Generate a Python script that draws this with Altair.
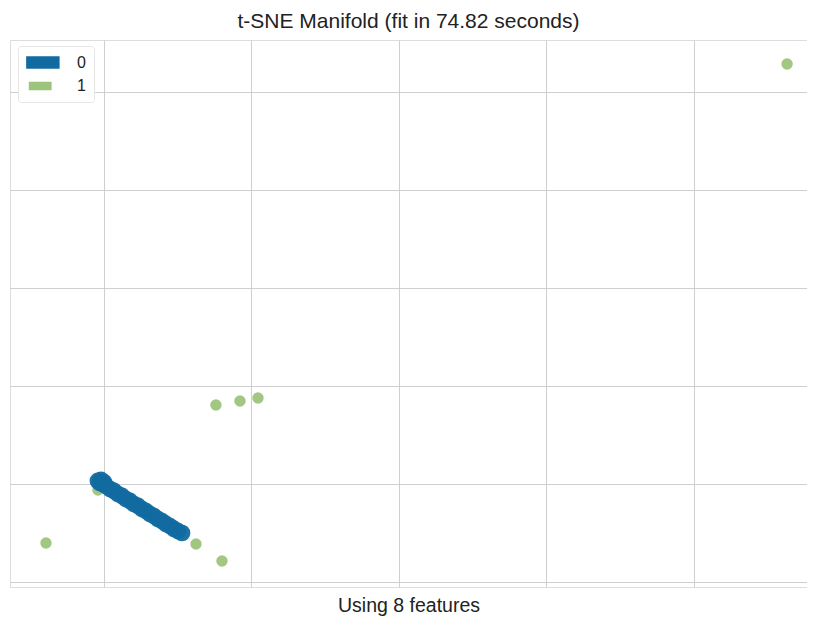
import altair as alt
import pandas as pd

# class 1 (green) points
g_x = [46.31, 7.59, 9.22, 10.44, -3.93, 6.24, 8.00, -0.41]
g_y = [52.86, 18.06, 18.47, 18.78, 3.98, 3.88, 2.14, 9.39]

# class 0 (blue) points - dense band
b_x = [-0.41, -0.27, -0.07, 0.14, 0.41, 0.68, 0.95, 1.22, 1.49, 1.76, 2.03, 2.31,
       2.58, 2.85, 3.12, 3.39, 3.66, 3.93, 4.20, 4.47, 4.75, 5.02, 5.29, -0.20, 0.00]
b_y = [10.31, 10.10, 10.00, 9.80, 9.49, 9.29, 8.98, 8.78, 8.47, 8.27, 7.96, 7.76,
       7.45, 7.24, 6.94, 6.73, 6.43, 6.22, 5.92, 5.71, 5.41, 5.20, 5.00, 10.41, 10.20]

classes = ["0", "1"]
colors = ["#126ba0", "#9dc47c"]
sizes = [280, 130]

x_ticks = [0, 10, 20, 30, 40]
y_ticks = [0, 10, 20, 30, 40, 50]

df = pd.DataFrame({
    "x": g_x + b_x,
    "y": g_y + b_y,
    "cls": ["1"] * len(g_x) + ["0"] * len(b_x),
})

FONT = "Liberation Sans"
# wide flat patch; spans [0, 4r] horizontally
rect_path = "M-1,-0.75L3,-0.75L3,0.75L-1,0.75Z"

chart = alt.Chart(df).mark_circle(opacity=0.95).encode(
    x=alt.X("x:Q", scale=alt.Scale(domain=[-6.37, 47.66], nice=False, zero=False),
            axis=alt.Axis(values=x_ticks, labels=False, ticks=False, domain=False,
                          grid=True, gridColor="#cfcfcf", gridWidth=1,
                          title="Using 8 features", titleFont=FONT, titleFontSize=19.5,
                          titleFontWeight="normal", titleColor="#222",
                          titleBaseline="alphabetic", titlePadding=24)),
    y=alt.Y("y:Q", scale=alt.Scale(domain=[-0.51, 55.31], nice=False, zero=False),
            axis=alt.Axis(values=y_ticks, labels=False, ticks=False, domain=False,
                          grid=True, gridColor="#cfcfcf", gridWidth=1, title=None)),
    size=alt.Size("cls:N", scale=alt.Scale(domain=classes, range=sizes), legend=None),
    color=alt.Color("cls:N", scale=alt.Scale(domain=classes, range=colors),
                    legend=alt.Legend(title=None, orient="none", legendX=8, legendY=6,
                                      symbolType=rect_path, symbolSize=342,
                                      symbolStrokeWidth=0, symbolOpacity=1,
                                      labelFont=FONT, labelFontSize=16, labelColor="#222",
                                      labelOffset=34, rowPadding=7,
                                      padding=8, fillColor="white",
                                      strokeColor="#e6e6e6", cornerRadius=3)),
).properties(
    width=797,
    height=547,
    title=alt.TitleParams("t-SNE Manifold (fit in 74.82 seconds)", font=FONT,
                          fontSize=21, fontWeight="normal", color="#222",
                          baseline="alphabetic", offset=12, dy=21),
    autosize=alt.AutoSizeParams(type="none"),
    padding={"left": 2, "top": 32, "right": 0, "bottom": 33},
).configure_view(
    stroke="#c4c4c4", strokeWidth=1
).configure(background="white")

chart.save("out.html", embed_options={"renderer": "svg", "actions": False})
